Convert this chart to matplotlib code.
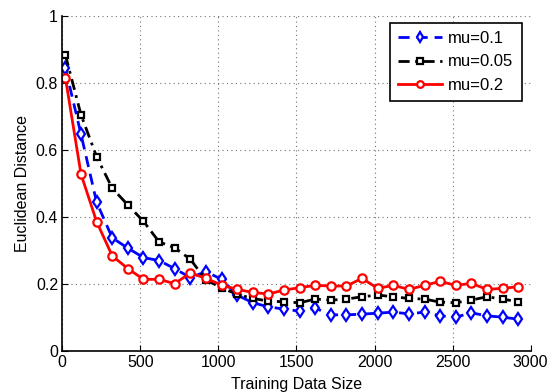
import numpy as np
from matplotlib import pyplot as plt

plt.rcParams['font.family'] = ['Liberation Sans', 'DejaVu Sans']

# training data sizes
sizes = list(range(20, 3000, 100))

# mu=0.1 (blue, dashed, diamonds)
mu_01 = [0.843, 0.646, 0.443, 0.337, 0.306, 0.278, 0.269, 0.245, 0.218, 0.236,
         0.213, 0.166, 0.143, 0.131, 0.124, 0.118, 0.127, 0.107, 0.107, 0.109,
         0.112, 0.115, 0.110, 0.115, 0.104, 0.100, 0.113, 0.104, 0.100, 0.094]
# mu=0.05 (black, dash-dot, squares)
mu_005 = [0.883, 0.704, 0.579, 0.485, 0.435, 0.386, 0.325, 0.307, 0.273, 0.211,
          0.188, 0.168, 0.156, 0.148, 0.146, 0.143, 0.154, 0.151, 0.154, 0.161,
          0.166, 0.161, 0.156, 0.154, 0.145, 0.143, 0.151, 0.161, 0.154, 0.146]
# mu=0.2 (red, solid, circles)
mu_02 = [0.815, 0.527, 0.385, 0.283, 0.245, 0.213, 0.213, 0.200, 0.232, 0.216,
         0.196, 0.183, 0.174, 0.169, 0.181, 0.188, 0.195, 0.193, 0.193, 0.216,
         0.186, 0.195, 0.183, 0.195, 0.207, 0.195, 0.201, 0.183, 0.186, 0.191]

fig = plt.figure(figsize=(5.56, 3.92), dpi=100)
ax = fig.add_axes([0.112, 0.1054, 0.8425, 0.8546])

ax.plot(sizes, mu_01, color='blue', linestyle=(0, (4, 2.5)), lw=2, marker='d',
        ms=6.5, mfc='white', mew=1.6, label='mu=0.1')
ax.plot(sizes, mu_005, color='black', linestyle=(0, (4, 2, 1, 2)), lw=2, marker='s',
        ms=5, mfc='white', mew=1.6, label='mu=0.05')
ax.plot(sizes, mu_02, color='red', linestyle='-', lw=2, marker='o',
        ms=6, mfc='white', mew=1.6, label='mu=0.2')

ax.set_xlim(0, 3000)
ax.set_ylim(0, 1)
ax.set_xticks(range(0, 3001, 500))
ax.set_yticks([0, 0.2, 0.4, 0.6, 0.8, 1])
ax.set_yticklabels(['0', '0.2', '0.4', '0.6', '0.8', '1'])
ax.tick_params(direction='in', length=4, labelsize=11.5, pad=3)
ax.grid(True, linestyle=(0, (1, 3)), color='0.45', lw=0.8)
for s in ['top', 'right']:
    ax.spines[s].set_visible(False)
for s in ['left', 'bottom']:
    ax.spines[s].set_linewidth(1.2)

ax.set_xlabel('Training Data Size', fontsize=11.5, labelpad=5)
ax.set_ylabel('Euclidean Distance', fontsize=11.5, labelpad=4)

leg = ax.legend(loc='upper right', bbox_to_anchor=(0.981, 0.979), fontsize=12,
                fancybox=False, framealpha=1, edgecolor='black', handlelength=2.6,
                borderpad=0.5, labelspacing=0.5, handletextpad=0.4, markerscale=0.8,
                borderaxespad=0)
leg.get_frame().set_linewidth(1.2)

fig.savefig('out.png', dpi=100)
